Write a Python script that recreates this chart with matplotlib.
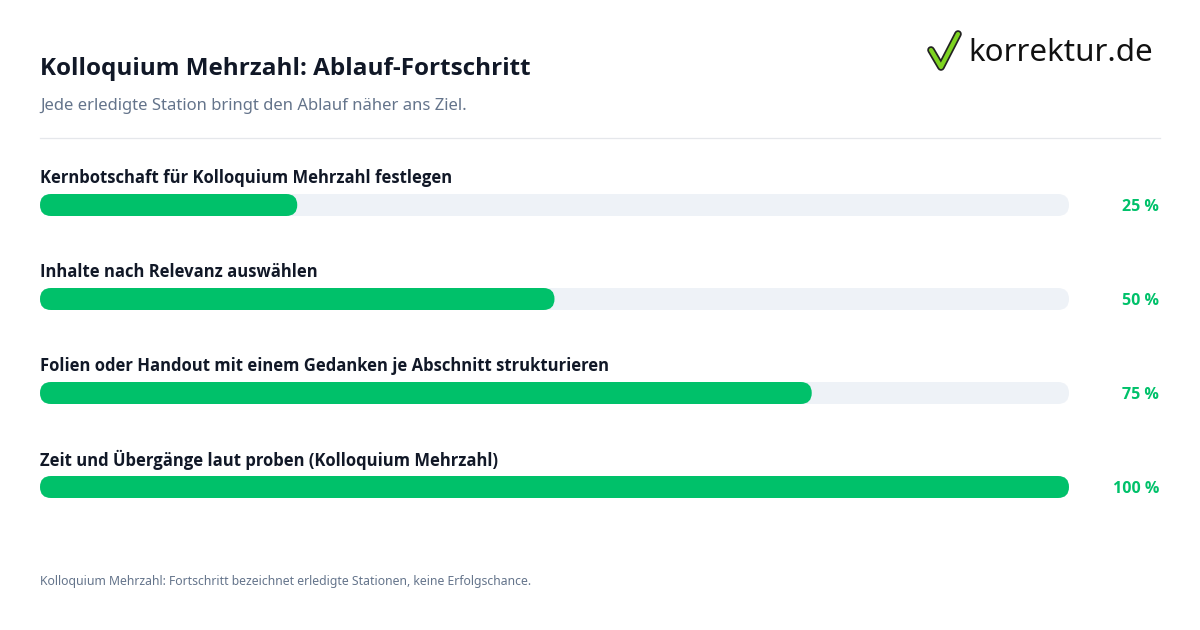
import matplotlib
matplotlib.use("Agg")
import matplotlib.pyplot as plt
from matplotlib.patches import FancyBboxPatch
from matplotlib.lines import Line2D

categories = ["Kernbotschaft für Kolloquium Mehrzahl festlegen",
              "Inhalte nach Relevanz auswählen",
              "Folien oder Handout mit einem Gedanken je Abschnitt strukturieren",
              "Zeit und Übergänge laut proben (Kolloquium Mehrzahl)"]
values = [25, 50, 75, 100]
value_labels = ["25 %", "50 %", "75 %", "100 %"]

plt.rcParams['font.family'] = ['Noto Sans', 'DejaVu Sans']
BOLD = ['Open Sans', 'DejaVu Sans']
W, H = 1200, 630
fig = plt.figure(figsize=(12, 6.3), dpi=100)
fig.patch.set_facecolor("white")
def fx(x): return x / W
def fy(y): return 1 - y / H

GREEN = "#00c16a"; TRACK = "#eef2f7"; DARK = "#111827"; GREY = "#64748b"

fig.text(fx(40), fy(69), "Kolloquium Mehrzahl: Ablauf-Fortschritt", fontsize=17.5,
         fontweight="bold", family=BOLD, color=DARK, va="center")
fig.text(fx(40), fy(106), "Jede erledigte Station bringt den Ablauf näher ans Ziel.",
         fontsize=12, color=GREY, va="center")
fig.add_artist(Line2D([fx(40), fx(1160)], [fy(138), fy(138)], color="#e5e7eb", lw=0.9))
fig.text(fx(40), fy(582), "Kolloquium Mehrzahl: Fortschritt bezeichnet erledigte Stationen, keine Erfolgschance.",
         fontsize=8.8, color=GREY, va="center")

# logo
fig.add_artist(Line2D([fx(931), fx(941), fx(958)], [fy(50), fy(67), fy(34)],
                      color="#222222", lw=5.5, solid_capstyle="round", solid_joinstyle="round"))
fig.add_artist(Line2D([fx(931), fx(941), fx(958)], [fy(50), fy(67), fy(34)],
                      color="#7ed321", lw=3, solid_capstyle="round", solid_joinstyle="round"))
fig.text(fx(968), fy(53), "korrektur.de", fontsize=22.5, color="#111111", va="center")

# bars axes
top, bot = 150, 520
ax = fig.add_axes([fx(40), fy(bot), fx(1069) - fx(40), (bot - top) / H])
ax.set_xlim(0, 100); ax.set_ylim(0, bot - top)
ax.axis("off")
pxu = 1029 / 100
bh = 22
centers = [205, 299, 393, 487]
for cat, v, lab, cy in zip(categories, values, value_labels, centers):
    yb = (bot - top) - (cy - top) - bh / 2
    for width, col in [(100, TRACK), (v, GREEN)]:
        ax.add_patch(FancyBboxPatch((0, yb), width, bh,
                     boxstyle=f"round,pad=0,rounding_size={11/pxu}",
                     mutation_aspect=pxu, fc=col, ec="none"))
    fig.text(fx(40), fy(cy - 27), cat, fontsize=12, fontweight="bold", family=BOLD,
             color=DARK, va="center")
    fig.text(fx(1159), fy(cy + 2), lab, fontsize=11.5, fontweight="bold", family=BOLD,
             color=GREEN, va="center", ha="right")

fig.savefig("out.png", dpi=100)
